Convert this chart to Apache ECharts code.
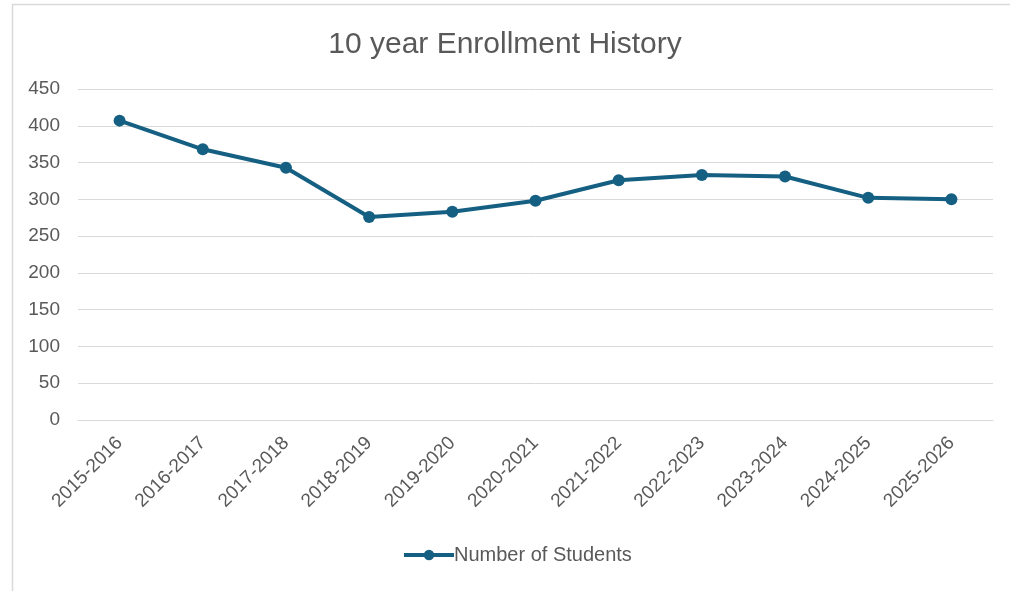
<!DOCTYPE html>
<html>
<head>
<meta charset="utf-8">
<script src="https://cdn.jsdelivr.net/npm/echarts@6/dist/echarts.min.js"></script>
<style>
html,body{margin:0;padding:0;background:#fff;}
#chart{width:1010px;height:591px;}
</style>
</head>
<body>
<div id="chart"></div>
<script>
const categories = ["2015-2016","2016-2017","2017-2018","2018-2019","2019-2020","2020-2021","2021-2022","2022-2023","2023-2024","2024-2025","2025-2026"];
const students = [407, 368, 343, 276, 283, 298, 326, 333, 331, 302, 300];
const seriesName = "Number of Students";
const titleText = "10 year Enrollment History";

const chart = echarts.init(document.getElementById('chart'), null, {renderer:'canvas'});
const font = '"Liberation Sans", Arial, sans-serif';
chart.setOption({
  animation: false,
  backgroundColor: '#ffffff',
  graphic: [{
    type: 'rect',
    shape: {x: 12.5, y: 4.5, width: 1100, height: 700},
    style: {fill: 'none', stroke: '#d9d9d9', lineWidth: 1.5},
    silent: true
  }],
  title: {
    text: titleText,
    left: 'center',
    top: 25,
    textStyle: {fontFamily: font, fontSize: 30, fontWeight: 'normal', color: '#595959'}
  },
  legend: {
    data: [seriesName],
    bottom: 21,
    left: 397,
    itemWidth: 50,
    itemHeight: 13,
    lineStyle: {width: 4},
    textStyle: {fontFamily: font, fontSize: 20, color: '#595959', padding: [0,0,0,-5]}
  },
  grid: {left: 78, right: 17, top: 89, bottom: 171, containLabel: false},
  xAxis: {
    type: 'category',
    data: categories,
    boundaryGap: true,
    axisLine: {show: true, lineStyle: {color: '#d9d9d9', width: 1}},
    axisTick: {show: false},
    axisLabel: {rotate: 45, margin: 20, fontFamily: font, fontSize: 19, color: '#595959', interval: 0}
  },
  yAxis: {
    type: 'value',
    min: 0, max: 450, interval: 50,
    axisLine: {show: false},
    axisTick: {show: false},
    splitLine: {lineStyle: {color: '#d9d9d9', width: 1}},
    axisLabel: {margin: 18, fontFamily: font, fontSize: 19, color: '#595959'}
  },
  series: [{
    name: seriesName,
    type: 'line',
    data: students,
    symbol: 'circle',
    symbolSize: 12,
    lineStyle: {color: '#156082', width: 4},
    itemStyle: {color: '#156082'}
  }]
});
</script>
</body>
</html>
